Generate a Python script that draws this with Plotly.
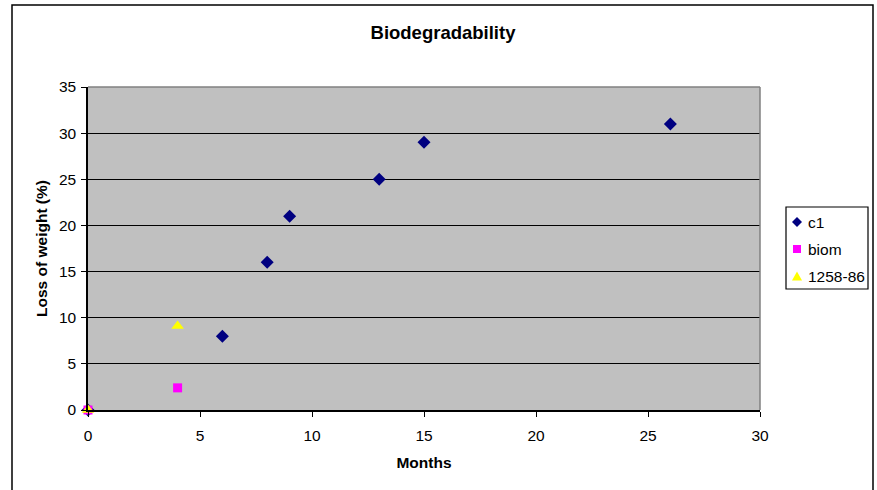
import plotly.graph_objects as go

c1_x = [0, 6, 8, 9, 13, 15, 26]
c1_y = [0, 8, 16, 21, 25, 29, 31]
biom_x = [0, 4]
biom_y = [0, 2.4]
s1258_x = [0, 4]
s1258_y = [0, 9.1]

series_names = ["c1", "biom", "1258-86"]
series_colors = ["#000080", "#FF00FF", "#FFFF00"]
series_symbols = ["diamond", "square", "triangle-up"]
series_sizes = [10, 9, 11]

FONT = "Liberation Sans, Arial, sans-serif"
FS = 15.5

L, R, T, B = 88, 760, 87, 410
W, H = 877, 490
pw, ph = R - L, B - T


def px(x):
    return (x - L) / pw


def py(y):
    return (B - y) / ph


fig = go.Figure()
for xs, ys, nm, col, sym, sz in zip([c1_x, biom_x, s1258_x], [c1_y, biom_y, s1258_y],
                                     series_names, series_colors, series_symbols, series_sizes):
    fig.add_trace(go.Scatter(x=xs, y=ys, mode="markers", name=nm,
                             marker=dict(symbol=sym, size=sz, color=col), cliponaxis=False))

fig.update_layout(
    width=W, height=H,
    margin=dict(l=L, r=W - R, t=T, b=H - B, autoexpand=False),
    paper_bgcolor="white",
    plot_bgcolor="#C0C0C0",
    font=dict(family=FONT, size=FS, color="black"),
    title=dict(text="<b>Biodegradability</b>", x=px(443), xref="paper",
               y=1 - 33 / H, yanchor="middle", font=dict(size=18.5)),
    xaxis=dict(range=[0, 30], tickvals=[0, 5, 10, 15, 20, 25, 30], showgrid=False,
               zeroline=False, showline=True, linecolor="black", linewidth=1.5,
               ticks="outside", ticklen=5, tickcolor="black", ticklabelstandoff=6,
               title=dict(text="<b>Months</b>", standoff=14, font=dict(size=FS))),
    yaxis=dict(range=[0, 35], tickvals=[0, 5, 10, 15, 20, 25, 30, 35], showgrid=True,
               gridcolor="black", gridwidth=1, zeroline=False, showline=True,
               linecolor="black", linewidth=1.5, ticks="outside", ticklen=5, tickcolor="black",
               ticklabelstandoff=2,
               title=dict(text="<b>Loss of weight (%)</b>", standoff=7, font=dict(size=FS))),
    showlegend=False,
)

# grey plot-area border on top and right
fig.add_shape(type="line", xref="paper", yref="paper", x0=0, x1=1, y0=1, y1=1,
              line=dict(color="#808080", width=1.5))
fig.add_shape(type="line", xref="paper", yref="paper", x0=1, x1=1, y0=0, y1=1,
              line=dict(color="#808080", width=1.5))
# outer chart border
fig.add_shape(type="rect", xref="paper", yref="paper",
              x0=px(12), x1=px(873), y0=py(495), y1=py(5),
              line=dict(color="black", width=1.5), layer="below")

# legend (drawn manually to match the compact box)
fig.add_shape(type="rect", xref="paper", yref="paper",
              x0=px(786), x1=px(868), y0=py(289), y1=py(207),
              line=dict(color="black", width=1.2), fillcolor="white")
item_y = [222, 249, 276.5]
sx = 797
for i, (nm, col, sym) in enumerate(zip(series_names, series_colors, series_symbols)):
    cy = item_y[i]
    if sym == "diamond":
        path = (f"M {px(sx)},{py(cy - 5)} L {px(sx + 5)},{py(cy)} "
                f"L {px(sx)},{py(cy + 5)} L {px(sx - 5)},{py(cy)} Z")
    elif sym == "square":
        path = (f"M {px(sx - 4)},{py(cy - 4)} L {px(sx + 4)},{py(cy - 4)} "
                f"L {px(sx + 4)},{py(cy + 4)} L {px(sx - 4)},{py(cy + 4)} Z")
    else:
        path = (f"M {px(sx)},{py(cy - 5)} L {px(sx + 5)},{py(cy + 4)} "
                f"L {px(sx - 5)},{py(cy + 4)} Z")
    fig.add_shape(type="path", xref="paper", yref="paper", path=path,
                  fillcolor=col, line=dict(width=0))
    fig.add_annotation(text=nm, xref="paper", yref="paper", x=px(806), y=py(cy),
                       xanchor="left", yanchor="middle", showarrow=False,
                       font=dict(size=FS, color="black"))

fig.write_html("out.html")
